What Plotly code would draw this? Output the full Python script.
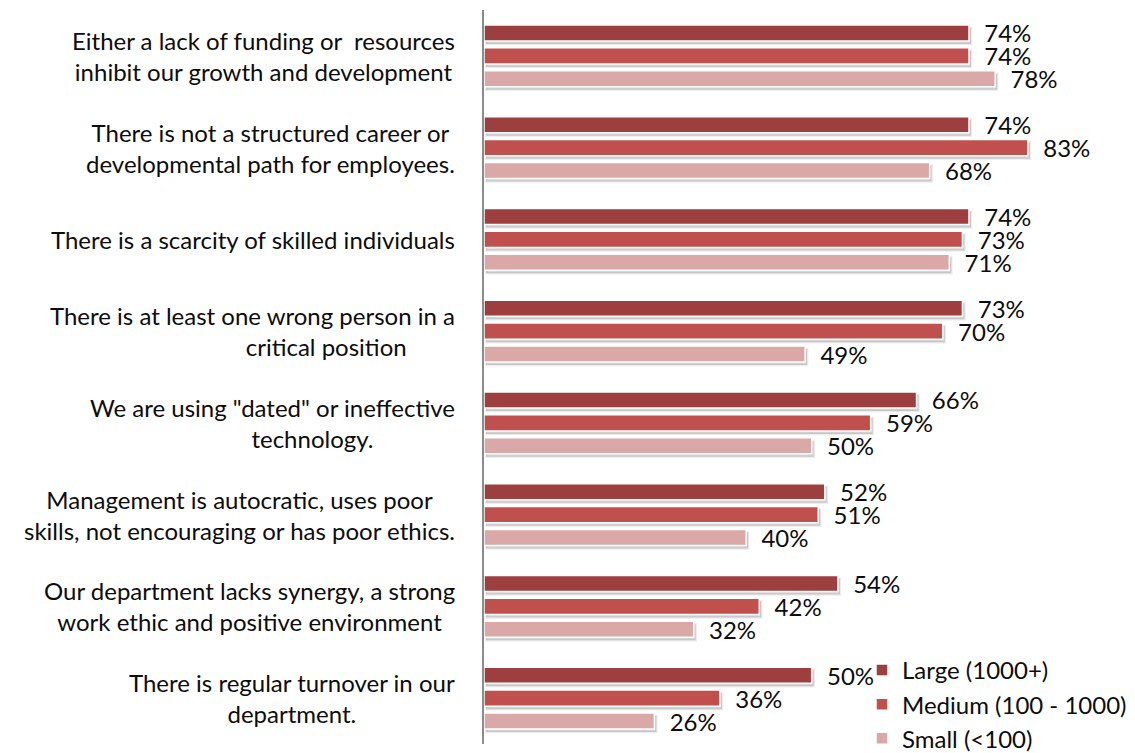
import plotly.graph_objects as go

categories = [
    "Either a lack of funding or \u00a0resources<br>inhibit our growth and development",
    "There is not a structured career or<br>developmental path for employees.",
    "There is a scarcity of skilled individuals",
    "There is at least one wrong person in a<br>critical position",
    "We are using \"dated\" or ineffective<br>technology.",
    "Management is autocratic, uses poor<br>skills, not encouraging or has poor ethics.",
    "Our department lacks synergy, a strong<br>work ethic and positive environment",
    "There is regular turnover in our<br>department.",
]
large = [74, 74, 74, 73, 66, 52, 54, 50]
medium = [74, 83, 73, 70, 59, 51, 42, 36]
small = [78, 68, 71, 49, 50, 40, 32, 26]

series = [
    ("Large (1000+)", large, "#9E3F3F"),
    ("Medium (100 - 1000)", medium, "#C0504D"),
    ("Small (<100)", small, "#DBA8A8"),
]

FONT = "Lato"
FS = 24
TXT = "#0d0d0d"

# second-line indent (non-breaking spaces) to mimic the original label wrapping
indent = {3: 24, 4: 13}

XMAX = 99.33
NCAT = len(categories)
fig = go.Figure()

# soft shadows (on base axes, shifted a few pixels)
for name, vals, color in series:
    fig.add_trace(go.Bar(
        y=categories, x=vals, orientation="h", showlegend=False, hoverinfo="skip",
        marker=dict(color="rgba(0,0,0,0.16)", line=dict(color="rgba(0,0,0,0.07)", width=2.5)),
        xaxis="x", yaxis="y",
    ))

# real bars on overlay axes
for name, vals, color in series:
    fig.add_trace(go.Bar(
        y=categories, x=vals, name=name, orientation="h",
        marker=dict(color=color, line=dict(color="white", width=1.5)),
        text=vals, texttemplate="\u00a0\u00a0%{text}%", textposition="outside",
        textfont=dict(family=FONT, size=FS, color=TXT),
        constraintext="none", cliponaxis=False,
        xaxis="x2", yaxis="y2",
    ))

W, H = 1127, 745
ML, MR, MT, MB = 476, 0, 2, 9
pw = W - ML - MR
ph = H - MT - MB
dx = 2 / pw * XMAX
dy = 3 / ph * NCAT

annotations = []
for i, cat in enumerate(categories):
    text = cat
    if i in indent and "<br>" in cat:
        a, b = cat.split("<br>")
        text = a + "<br>" + "\u00a0" * indent[i] + b
    annotations.append(dict(
        text=text, xref="paper", yref="y2", x=-27 / pw, y=i,
        xanchor="right", yanchor="middle", align="center", showarrow=False,
        font=dict(family=FONT, size=FS, color=TXT),
    ))

fig.update_layout(
    width=W, height=H,
    margin=dict(l=ML, r=MR, t=MT, b=MB, autoexpand=False),
    barmode="group", bargap=0.25, bargroupgap=0.3,
    plot_bgcolor="white", paper_bgcolor="white",
    font=dict(family=FONT, size=FS, color=TXT),
    showlegend=True,
    legend=dict(x=(862 - 484) / pw, y=0.131, xanchor="left", yanchor="top",
                font=dict(family=FONT, size=FS, color=TXT),
                bgcolor="rgba(0,0,0,0)", tracegroupgap=0, itemwidth=30),
    xaxis=dict(range=[-dx, XMAX - dx], visible=False, showgrid=False, zeroline=False),
    yaxis=dict(type="category", range=[NCAT - 0.5 - dy, -0.5 - dy], showline=False,
               showticklabels=False, ticks="", showgrid=False, zeroline=False),
    xaxis2=dict(range=[0, XMAX], overlaying="x", visible=False, showgrid=False, zeroline=False),
    yaxis2=dict(type="category", range=[NCAT - 0.5, -0.5], overlaying="y", side="left",
                showline=True, linecolor="#8C8C8C", linewidth=2,
                showticklabels=False, ticks="", showgrid=False, zeroline=False),
    annotations=annotations,
)
fig.write_html("out.html")
